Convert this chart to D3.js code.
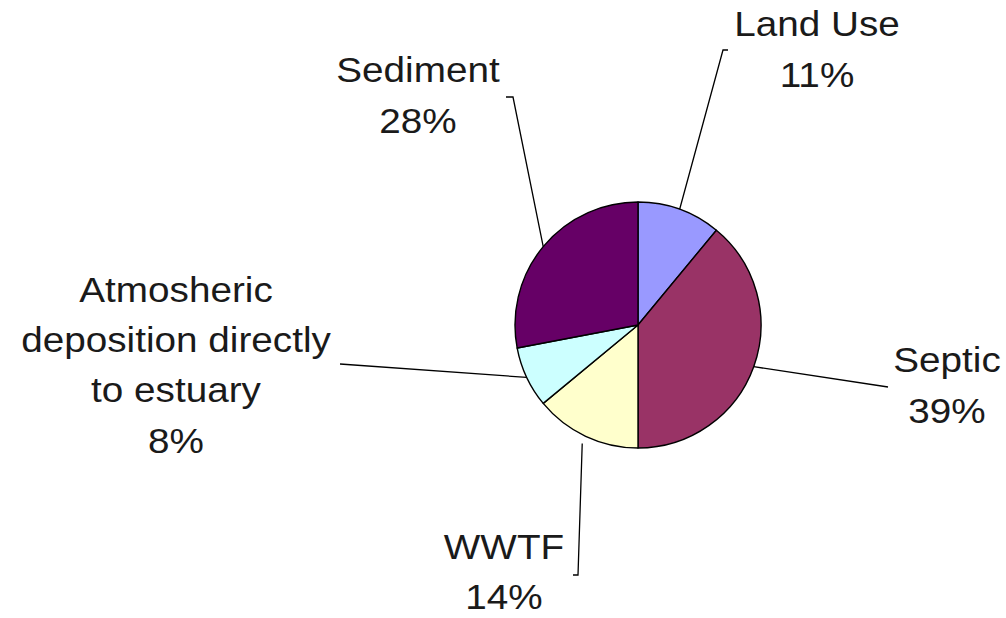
<!DOCTYPE html>
<html>
<head>
<meta charset="utf-8">
<script src="https://cdn.jsdelivr.net/npm/d3@7"></script>
<style>
  html, body { margin: 0; padding: 0; background: #fff; }
  svg { display: block; }
</style>
</head>
<body>
<svg id="chart" width="1006" height="618"></svg>
<script>
// ---- Data ----
const categoryLines = [
  ["Land Use"],
  ["Septic"],
  ["WWTF"],
  ["Atmosheric", "deposition directly", "to estuary"],
  ["Sediment"]
];
const categories = categoryLines.map(l => l.join(" "));
const values = [11, 39, 14, 8, 28];

// ---- Styles / layout (not data) ----
const colors = ["#9999FF", "#993366", "#FFFFCC", "#CCFFFF", "#660066"];
const center = { x: 638, y: 325 };
const radius = 123;
const fontSize = 36;
// first-baseline anchor of each label block (text centered) and its line height
const labelAnchor = [
  { x: 817, y: 36, lh: 51 },
  { x: 947, y: 372, lh: 51 },
  { x: 504, y: 559, lh: 50 },
  { x: 176, y: 301.5, lh: 50.5 },
  { x: 418, y: 82, lh: 51 }
];
// leader line elbow point and horizontal tick length
const leaderEnd = [
  { x: 723, y: 50, tick: 5, gap: 0 },
  { x: 888, y: 387, tick: 0, gap: 0 },
  { x: 578, y: 575, tick: -5, gap: 8 },
  { x: 340, y: 364, tick: 0, gap: 0 },
  { x: 513, y: 97, tick: -7, gap: 0 }
];

const svg = d3.select("#chart");

const pie = d3.pie().sort(null).value(d => d)(values);
const arc = d3.arc().innerRadius(0).outerRadius(radius);

const g = svg.append("g").attr("transform", `translate(${center.x},${center.y})`);

g.selectAll("path.slice")
  .data(pie)
  .join("path")
  .attr("class", "slice")
  .attr("d", arc)
  .attr("fill", (d, i) => colors[i])
  .attr("stroke", "#000")
  .attr("stroke-width", 1.4)
  .attr("stroke-linejoin", "round");

// leader lines
const line = d3.line();
svg.selectAll("path.leader")
  .data(pie)
  .join("path")
  .attr("class", "leader")
  .attr("d", (d, i) => {
    const a = (d.startAngle + d.endAngle) / 2;
    const r = radius + leaderEnd[i].gap;
    const p0 = [center.x + Math.sin(a) * r, center.y - Math.cos(a) * r];
    const e = leaderEnd[i];
    const pts = [p0, [e.x, e.y]];
    if (e.tick) pts.push([e.x + e.tick, e.y]);
    return line(pts);
  })
  .attr("fill", "none")
  .attr("stroke", "#000")
  .attr("stroke-width", 1.3);

// labels
const labels = svg.selectAll("g.label")
  .data(pie)
  .join("g")
  .attr("class", "label")
  .attr("transform", (d, i) => `translate(${labelAnchor[i].x},${labelAnchor[i].y}) scale(1.075,1)`);

labels.each(function(d, i) {
  const lines = categoryLines[i].concat([values[i] + "%"]);
  d3.select(this).selectAll("text")
    .data(lines)
    .join("text")
    .attr("x", 0)
    .attr("y", (t, j) => j * labelAnchor[i].lh)
    .attr("text-anchor", "middle")
    .attr("font-family", "'Liberation Sans', Arial, sans-serif")
    .attr("font-size", fontSize)
    .attr("fill", "#1a1a1a")
    .text(t => t);
});
</script>
</body>
</html>
